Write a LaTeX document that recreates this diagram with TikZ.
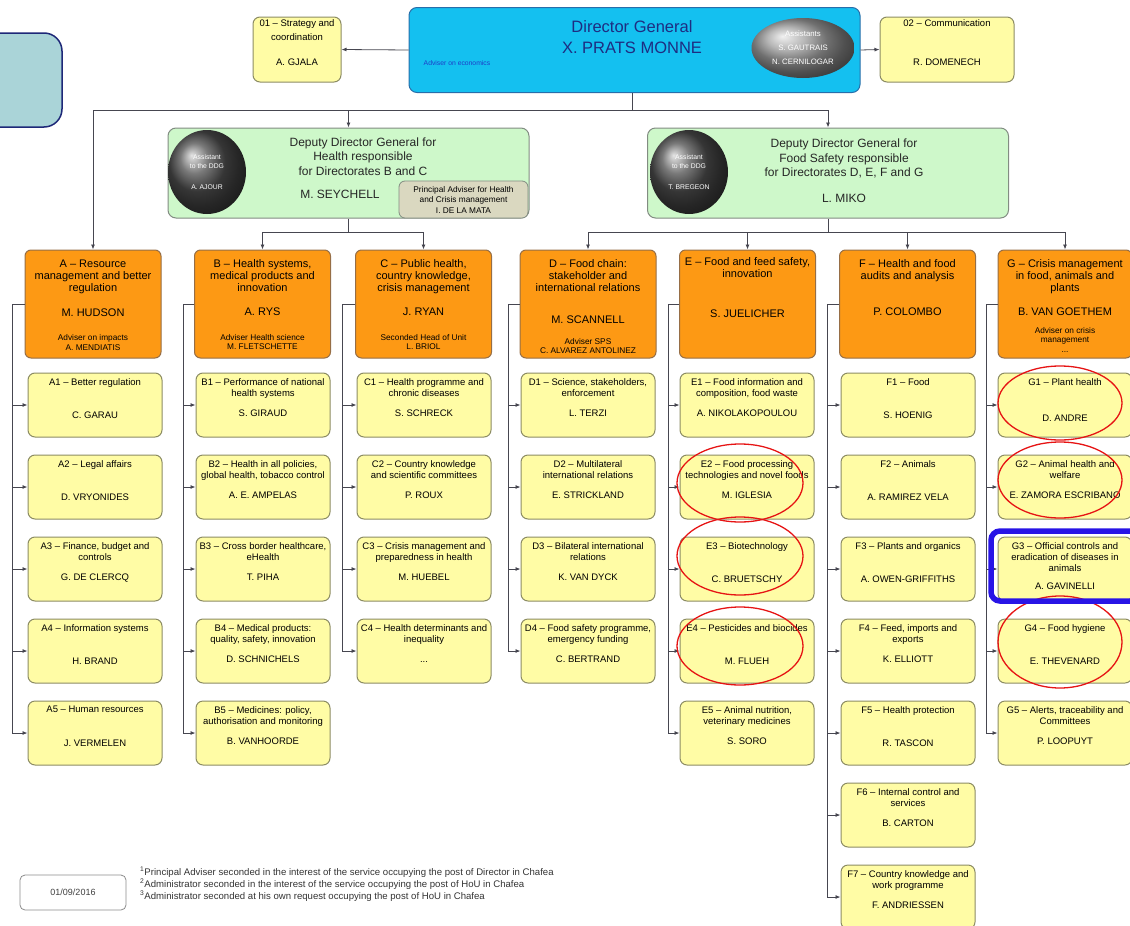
\documentclass[tikz,border=0pt]{standalone}
\usepackage{fontspec}
\setmainfont{Liberation Sans}
\usetikzlibrary{shapes,arrows.meta,positioning}

\definecolor{unitfill}{RGB}{255,252,165}
\definecolor{unitdraw}{RGB}{140,140,100}
\definecolor{dirfill}{RGB}{253,153,20}
\definecolor{dirdraw}{RGB}{150,110,70}
\definecolor{dgfill}{RGB}{20,192,240}
\definecolor{dgdraw}{RGB}{40,110,170}
\definecolor{dgtext}{RGB}{30,45,130}
\definecolor{ddgfill}{RGB}{206,248,202}
\definecolor{ddgdraw}{RGB}{130,140,130}
\definecolor{pafill}{RGB}{218,216,192}
\definecolor{tealfill}{RGB}{170,212,216}
\definecolor{tealdraw}{RGB}{30,40,120}
\definecolor{lineclr}{RGB}{70,70,80}
\definecolor{ringred}{RGB}{230,20,20}
\definecolor{markblue}{RGB}{40,20,230}

\begin{document}
\begin{tikzpicture}[x=1pt, y=-1pt,
	unit/.style={draw=unitdraw, fill=unitfill, line width=1pt, rounded corners=7pt, minimum width=134pt, minimum height=64pt, inner sep=0pt},
	utxt/.style={anchor=north, align=center, inner sep=0pt, font=\fontsize{9.5}{11}\selectfont},
	dirbox/.style={draw=dirdraw, fill=dirfill, line width=1pt, rounded corners=6pt, minimum width=136pt, minimum height=108pt, inner sep=0pt},
	dtxt/.style={anchor=north, align=center, inner sep=0pt, font=\fontsize{11}{12}\selectfont},
	dname/.style={inner sep=0pt, font=\fontsize{11}{12}\selectfont},
	dadv/.style={align=center, inner sep=0pt, font=\fontsize{8.3}{9.5}\selectfont},
	ddgbox/.style={draw=ddgdraw, fill=ddgfill, line width=1pt, rounded corners=8pt, minimum width=361pt, minimum height=90pt, inner sep=0pt},
	ddgtxt/.style={align=center, inner sep=0pt, font=\fontsize{12}{14.5}\selectfont, text=black!85},
	assist/.style={ellipse, shading=ball, inner sep=0pt, align=center, text=white, font=\fontsize{6.8}{9}\selectfont},
	conn/.style={draw=lineclr, line width=0.8pt},
	arr/.style={conn, -{Latex[length=5pt,width=4pt]}},
	ring/.style={draw=ringred, line width=1.3pt},
	]
	\useasboundingbox (0,0) rectangle (1130,926);
	\clip (0,0) rectangle (1130,926);
	
	% top
	\node[draw=tealdraw, fill=tealfill, line width=1.5pt, rounded corners=18pt, minimum width=114pt, minimum height=94pt] (tab) at (5,80) {};
	\node[draw=dgdraw, fill=dgfill, line width=1pt, rounded corners=8pt, minimum width=451pt, minimum height=85pt] (DG) at (634.5,50) {};
	\node[align=center, inner sep=0pt, text=dgtext, font=\fontsize{16.5}{21}\selectfont] (DGt) at (632,37.5) {Director General\\X. PRATS MONNE};
	\node[inner sep=0pt, text={rgb,255:red,30;green,60;blue,200}, font=\fontsize{6.8}{8}\selectfont] (DGadv) at (457,63) {Adviser on economics};
	\node[assist, ball color=gray!75, minimum width=103pt, minimum height=60pt, font=\fontsize{7.8}{14}\selectfont] (AsDG) at (803,48) {Assistants\\S. GAUTRAIS\\N. CERNILOGAR};
	\node[unit, minimum width=88pt, minimum height=65pt] (S1) at (297,49.5) {};
	\node[utxt] (S1t) at ([yshift=-2.6pt]S1.north) {01 – Strategy and\\[3pt]coordination\\[14pt]A. GJALA};
	\node[unit, minimum height=65pt] (S2) at (947,49.5) {};
	\node[utxt] (S2t) at ([yshift=-2.6pt]S2.north) {02 – Communication\\[28pt]R. DOMENECH};
	\draw[arr] (DG.west) -- (S1.east);
	\draw[arr] (DG.east) -- (S2.east -| S2.west);
	
	% deputy directors
	\node[ddgbox] (DDGh) at (348.5,173) {};
	\node[assist, ball color=gray!60!black, minimum width=78pt, minimum height=84pt] (AsH) at (207,172) {Assistant\\to the DDG\\[12pt]A. AJOUR};
	\node[ddgtxt] (DDGht) at (363,156.5) {Deputy Director General for\\Health responsible\\for Directorates B and C};
	\node[ddgtxt] (DDGhn) at (340,194) {M. SEYCHELL};
	\node[draw=ddgdraw, fill=pafill, line width=0.8pt, rounded corners=6pt, minimum width=129pt, minimum height=37pt, align=center, inner sep=0pt, font=\fontsize{8.3}{10.5}\selectfont] (PA) at (463.5,199.5) {Principal Adviser for Health\\and Crisis management\\I. DE LA MATA};
	\node[ddgbox] (DDGf) at (828,173) {};
	\node[assist, ball color=gray!60!black, minimum width=78pt, minimum height=84pt] (AsF) at (689,172) {Assistant\\to the DDG\\[12pt]T. BREGEON};
	\node[ddgtxt] (DDGft) at (844,158.5) {Deputy Director General for\\Food Safety responsible\\for Directorates D, E, F and G};
	\node[ddgtxt] (DDGfn) at (844,198) {L. MIKO};
	
	\coordinate (bus1) at (632,110);
	\draw[conn] (bus1 |- DG.south) -- (bus1);
	\draw[arr] (bus1) -| (DDGh.north);
	\draw[arr] (bus1) -| (DDGf.north);
	
	% directorates
	\node[dirbox] (A) at (93,304) {};
	\node[dtxt] (At) at ([yshift=-10.5pt]A.north) {A – Resource\\management and better\\regulation};
	\node[dname] (An) at (93,313) {M. HUDSON};
	\node[dadv] (Aa) at (93,342.5) {Adviser on impacts\\A. MENDIATIS};
	\node[dirbox] (B) at (262.5,304) {};
	\node[dtxt] (Bt) at ([yshift=-9.5pt]B.north) {B – Health systems,\\medical products and\\innovation};
	\node[dname] (Bn) at (262.5,312) {A. RYS};
	\node[dadv] (Ba) at (262.5,342) {Adviser Health science\\M. FLETSCHETTE};
	\node[dirbox] (C) at (423.5,304) {};
	\node[dtxt] (Ct) at ([yshift=-9.5pt]C.north) {C – Public health,\\country knowledge,\\crisis management};
	\node[dname] (Cn) at (423.5,312) {J. RYAN};
	\node[dadv] (Ca) at (423.5,342) {Seconded Head of Unit\\L. BRIOL};
	\node[dirbox] (D) at (588,304) {};
	\node[dtxt] (Dt) at ([yshift=-9.5pt]D.north) {D – Food chain:\\stakeholder and\\international relations};
	\node[dname] (Dn) at (588,320) {M. SCANNELL};
	\node[dadv] (Da) at (588,346) {Adviser SPS\\C. ALVAREZ ANTOLINEZ};
	\node[dirbox] (E) at (747.5,304) {};
	\node[dtxt] (Et) at ([yshift=-7.5pt]E.north) {E – Food and feed safety,\\innovation};
	\node[dname] (En) at (747.5,314) {S. JUELICHER};
	\node[dirbox] (F) at (907.5,304) {};
	\node[dtxt] (Ft) at ([yshift=-9.5pt]F.north) {F – Health and food\\audits and analysis};
	\node[dname] (Fn) at (907.5,312) {P. COLOMBO};
	\node[dirbox, minimum width=134pt] (G) at (1065,304) {};
	\node[dtxt] (Gt) at ([yshift=-9.5pt]G.north) {G – Crisis management\\in food, animals and\\plants};
	\node[dname] (Gn) at (1065,312) {B. VAN GOETHEM};
	\node[dadv] (Ga) at (1065,336) {Adviser on crisis\\management};
	\node[dadv] (Gd) at (1065,352) {...};
	
	\draw[arr] (bus1) -| (A.north);
	\coordinate (bus2) at (348.5,232);
	\draw[conn] (DDGh.south) -- (bus2);
	\draw[arr] (bus2) -| (B.north);
	\draw[arr] (bus2) -| (C.north);
	\coordinate (bus3) at (828,232);
	\draw[conn] (DDGf.south) -- (bus3);
	\draw[arr] (bus3) -| (D.north);
	\draw[arr] (bus3) -| (E.north);
	\draw[arr] (bus3) -| (F.north);
	\draw[arr] (bus3) -| (G.north);
	
	% units A
	\node[unit] (A1) at (95,405) {};
	\node[utxt] (A1t) at ([yshift=-5.5pt]A1.north) {A1 – Better regulation\\[22.5pt]C. GARAU};
	\node[unit] (A2) at (95,487) {};
	\node[utxt] (A2t) at ([yshift=-5.5pt]A2.north) {A2 – Legal affairs\\[22.5pt]D. VRYONIDES};
	\node[unit] (A3) at (95,569) {};
	\node[utxt] (A3t) at ([yshift=-5.5pt]A3.north) {A3 – Finance, budget and\\controls\\[9pt]G. DE CLERCQ};
	\node[unit] (A4) at (95,651) {};
	\node[utxt] (A4t) at ([yshift=-5.5pt]A4.north) {A4 – Information systems\\[22.5pt]H. BRAND};
	\node[unit] (A5) at (95,733) {};
	\node[utxt] (A5t) at ([yshift=-5.5pt]A5.north) {A5 – Human resources\\[22.5pt]J. VERMELEN};
	
	% units B
	\node[unit] (B1) at (263,405) {};
	\node[utxt] (B1t) at ([yshift=-5.5pt]B1.north) {B1 – Performance of national\\health systems\\[9pt]S. GIRAUD};
	\node[unit] (B2) at (263,487) {};
	\node[utxt] (B2t) at ([yshift=-5.5pt]B2.north) {B2 – Health in all policies,\\global health, tobacco control\\[9pt]A. E. AMPELAS};
	\node[unit] (B3) at (263,569) {};
	\node[utxt] (B3t) at ([yshift=-5.5pt]B3.north) {B3 – Cross border healthcare,\\eHealth\\[9pt]T. PIHA};
	\node[unit] (B4) at (263,651) {};
	\node[utxt] (B4t) at ([yshift=-5.5pt]B4.north) {B4 – Medical products:\\quality, safety, innovation\\[9pt]D. SCHNICHELS};
	\node[unit] (B5) at (263,733) {};
	\node[utxt] (B5t) at ([yshift=-5.5pt]B5.north) {B5 – Medicines: policy,\\authorisation and monitoring\\[9pt]B. VANHOORDE};
	
	% units C
	\node[unit] (C1) at (424,405) {};
	\node[utxt] (C1t) at ([yshift=-5.5pt]C1.north) {C1 – Health programme and\\chronic diseases\\[9pt]S. SCHRECK};
	\node[unit] (C2) at (424,487) {};
	\node[utxt] (C2t) at ([yshift=-5.5pt]C2.north) {C2 – Country knowledge\\and scientific committees\\[9pt]P. ROUX};
	\node[unit] (C3) at (424,569) {};
	\node[utxt] (C3t) at ([yshift=-5.5pt]C3.north) {C3 – Crisis management and\\preparedness in health\\[9pt]M. HUEBEL};
	\node[unit] (C4) at (424,651) {};
	\node[utxt] (C4t) at ([yshift=-5.5pt]C4.north) {C4 – Health determinants and\\inequality\\[9pt]...};
	
	% units D
	\node[unit] (D1) at (588,405) {};
	\node[utxt] (D1t) at ([yshift=-5.5pt]D1.north) {D1 – Science, stakeholders,\\enforcement\\[9pt]L. TERZI};
	\node[unit] (D2) at (588,487) {};
	\node[utxt] (D2t) at ([yshift=-5.5pt]D2.north) {D2 – Multilateral\\international relations\\[9pt]E. STRICKLAND};
	\node[unit] (D3) at (588,569) {};
	\node[utxt] (D3t) at ([yshift=-5.5pt]D3.north) {D3 – Bilateral international\\relations\\[9pt]K. VAN DYCK};
	\node[unit] (D4) at (588,651) {};
	\node[utxt] (D4t) at ([yshift=-5.5pt]D4.north) {D4 – Food safety programme,\\emergency funding\\[9pt]C. BERTRAND};
	
	% units E
	\node[unit] (E1) at (747,405) {};
	\node[utxt] (E1t) at ([yshift=-5.5pt]E1.north) {E1 – Food information and\\composition, food waste\\[9pt]A. NIKOLAKOPOULOU};
	\node[unit] (E2) at (747,487) {};
	\node[utxt] (E2t) at ([yshift=-5.5pt]E2.north) {E2 – Food processing\\technologies and novel foods\\[9pt]M. IGLESIA};
	\node[unit] (E3) at (747,569) {};
	\node[utxt] (E3t) at ([yshift=-5.5pt]E3.north) {E3 – Biotechnology\\[22.5pt]C. BRUETSCHY};
	\node[unit] (E4) at (747,651) {};
	\node[utxt] (E4t) at ([yshift=-5.5pt]E4.north) {E4 – Pesticides and biocides\\[22.5pt]M. FLUEH};
	\node[unit] (E5) at (747,733) {};
	\node[utxt] (E5t) at ([yshift=-5.5pt]E5.north) {E5 – Animal nutrition,\\veterinary medicines\\[9pt]S. SORO};
	
	% units F
	\node[unit] (F1) at (908,405) {};
	\node[utxt] (F1t) at ([yshift=-5.5pt]F1.north) {F1 – Food\\[22.5pt]S. HOENIG};
	\node[unit] (F2) at (908,487) {};
	\node[utxt] (F2t) at ([yshift=-5.5pt]F2.north) {F2 – Animals\\[22.5pt]A. RAMIREZ VELA};
	\node[unit] (F3) at (908,569) {};
	\node[utxt] (F3t) at ([yshift=-5.5pt]F3.north) {F3 – Plants and organics\\[22.5pt]A. OWEN-GRIFFITHS};
	\node[unit] (F4) at (908,651) {};
	\node[utxt] (F4t) at ([yshift=-5.5pt]F4.north) {F4 – Feed, imports and\\exports\\[9pt]K. ELLIOTT};
	\node[unit] (F5) at (908,733) {};
	\node[utxt] (F5t) at ([yshift=-5.5pt]F5.north) {F5 – Health protection\\[22.5pt]R. TASCON};
	\node[unit] (F6) at (908,815) {};
	\node[utxt] (F6t) at ([yshift=-5.5pt]F6.north) {F6 – Internal control and\\services\\[9pt]B. CARTON};
	\node[unit] (F7) at (908,897) {};
	\node[utxt] (F7t) at ([yshift=-5.5pt]F7.north) {F7 – Country knowledge and\\work programme\\[9pt]F. ANDRIESSEN};
	
	% units G
	\node[unit] (G1) at (1065,405) {};
	\node[utxt] (G1t) at ([yshift=-5.5pt]G1.north) {G1 – Plant health\\[25.5pt]D. ANDRE};
	\node[unit] (G2) at (1065,487) {};
	\node[utxt] (G2t) at ([yshift=-5.5pt]G2.north) {G2 – Animal health and\\welfare\\[9pt]E. ZAMORA ESCRIBANO};
	\node[unit] (G3) at (1065,569) {};
	\node[utxt] (G3t) at ([yshift=-5.5pt]G3.north) {G3 – Official controls and\\eradication of diseases in\\animals\\[7pt]A. GAVINELLI};
	\node[unit] (G4) at (1065,651) {};
	\node[utxt] (G4t) at ([yshift=-5.5pt]G4.north) {G4 – Food hygiene\\[22.5pt]E. THEVENARD};
	\node[unit] (G5) at (1065,733) {};
	\node[utxt] (G5t) at ([yshift=-5.5pt]G5.north) {G5 – Alerts, traceability and\\Committees\\[9pt]P. LOOPUYT};
	
	% spines
	\coordinate (spA) at (12,304);
	\coordinate (spB) at (183,304);
	\coordinate (spC) at (342,304);
	\coordinate (spD) at (508,304);
	\coordinate (spE) at (668,304);
	\coordinate (spF) at (827,304);
	\coordinate (spG) at (986,304);
	\draw[conn] (A.west) -- (spA);
	\draw[conn] (B.west) -- (spB);
	\draw[conn] (C.west) -- (spC);
	\draw[conn] (D.west) -- (spD);
	\draw[conn] (E.west) -- (spE);
	\draw[conn] (F.west) -- (spF);
	\draw[conn] (G.west) -- (spG);
	
	\draw[arr] (spA) |- (A1.west);
	\draw[arr] (spA) |- (A2.west);
	\draw[arr] (spA) |- (A3.west);
	\draw[arr] (spA) |- (A4.west);
	\draw[arr] (spA) |- (A5.west);
	\draw[arr] (spB) |- (B1.west);
	\draw[arr] (spB) |- (B2.west);
	\draw[arr] (spB) |- (B3.west);
	\draw[arr] (spB) |- (B4.west);
	\draw[arr] (spB) |- (B5.west);
	\draw[arr] (spC) |- (C1.west);
	\draw[arr] (spC) |- (C2.west);
	\draw[arr] (spC) |- (C3.west);
	\draw[arr] (spC) |- (C4.west);
	\draw[arr] (spD) |- (D1.west);
	\draw[arr] (spD) |- (D2.west);
	\draw[arr] (spD) |- (D3.west);
	\draw[arr] (spD) |- (D4.west);
	\draw[arr] (spE) |- (E1.west);
	\draw[arr] (spE) |- (E2.west);
	\draw[arr] (spE) |- (E3.west);
	\draw[arr] (spE) |- (E4.west);
	\draw[arr] (spE) |- (E5.west);
	\draw[arr] (spF) |- (F1.west);
	\draw[arr] (spF) |- (F2.west);
	\draw[arr] (spF) |- (F3.west);
	\draw[arr] (spF) |- (F4.west);
	\draw[arr] (spF) |- (F5.west);
	\draw[arr] (spF) |- (F6.west);
	\draw[arr] (spF) |- (F7.west);
	\draw[arr] (spG) |- (G1.west);
	\draw[arr] (spG) |- (G2.west);
	\draw[arr] (spG) |- (G3.west);
	\draw[arr] (spG) |- (G4.west);
	\draw[arr] (spG) |- (G5.west);
	
	% marks
	\draw[ring] (740,483) ellipse [x radius=63, y radius=39];
	\draw[ring] (740,556) ellipse [x radius=63, y radius=39];
	\draw[ring] (740,646) ellipse [x radius=63, y radius=39];
	\draw[ring] (1060,403) ellipse [x radius=62, y radius=37];
	\draw[ring] (1060,480) ellipse [x radius=62, y radius=38];
	\draw[ring] (1060,642) ellipse [x radius=62, y radius=46];
	\draw[draw=markblue, line width=5.5pt, rounded corners=9pt] (991,531) rectangle (1145,601);
	
	% footer
	\node[draw=black!45, fill=white, line width=0.8pt, rounded corners=5pt, minimum width=106pt, minimum height=35pt, font=\fontsize{9}{10}\selectfont, text=black!75] (date) at (73,892.5) {01/09/2016};
	\node[anchor=west, inner sep=0pt, font=\fontsize{9.6}{12}\selectfont, text=black!80] (fn1) at (140,872) {\textsuperscript{1}Principal Adviser seconded in the interest of the service occupying the post of Director in Chafea};
	\node[anchor=west, inner sep=0pt, font=\fontsize{9.6}{12}\selectfont, text=black!80] (fn2) at (140,884) {\textsuperscript{2}Administrator seconded in the interest of the service occupying the post of HoU in Chafea};
	\node[anchor=west, inner sep=0pt, font=\fontsize{9.6}{12}\selectfont, text=black!80] (fn3) at (140,896) {\textsuperscript{3}Administrator seconded at his own request occupying the post of HoU in Chafea};
\end{tikzpicture}
\end{document}
